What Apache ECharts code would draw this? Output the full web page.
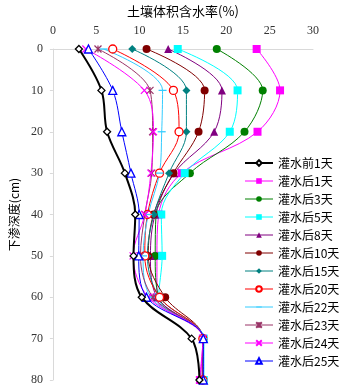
<!DOCTYPE html>
<html>
<head>
<meta charset="utf-8">
<script src="https://cdn.jsdelivr.net/npm/echarts@6/dist/echarts.min.js"></script>
<style>
  html, body { margin: 0; padding: 0; background: #fff; }
  #chart { width: 342px; height: 390px; }
</style>
</head>
<body>
<div id="chart"></div>
<script>
// depth (cm) down the y axis
const depths = [0, 10, 20, 30, 40, 50, 60, 70, 80];

// volumetric water content (%) per day, one value per depth
const before1 = [3.0, 5.6, 6.25, 8.3, 9.5, 9.3, 10.25, 16.0, 16.9];
const after1  = [23.5, 26.2, 23.6, 14.85, 12.2, 12.0, 12.0, 17.3, 17.0];
const after3  = [18.9, 24.2, 22.1, 15.8, 11.9, 11.8, 12.2, 17.3, 17.3];
const after5  = [14.4, 21.3, 20.4, 15.2, 12.5, 12.6, 12.2, 17.4, 17.4];
const after8  = [13.3, 19.5, 18.6, 14.0, 11.8, 11.25, 12.0, 17.3, 17.3];
const after10 = [10.8, 17.5, 16.8, 13.9, 11.6, 11.0, 12.95, 17.3, 17.3];
const after15 = [9.15, 15.4, 15.4, 13.4, 11.65, 10.9, 12.3, 17.3, 17.3];
const after20 = [6.9, 13.9, 14.55, 12.3, 10.9, 10.6, 12.3, 17.3, 17.3];
const after22 = [5.85, 12.65, 12.55, 12.3, 11.0, 10.4, 11.3, 17.4, 17.4];
const after23 = [5.2, 11.2, 11.5, 11.4, 10.6, 10.1, 11.55, 17.3, 17.2];
const after24 = [3.8, 10.55, 11.6, 11.3, 10.6, 9.25, 11.0, 17.3, 16.9];
const after25 = [4.1, 6.9, 7.95, 9.0, 9.95, 9.9, 10.8, 17.35, 17.35];

const xTicks = [0, 5, 10, 15, 20, 25, 30];
const yTicks = [0, 10, 20, 30, 40, 50, 60, 70, 80];

const SYM_X = 'path://M0,0L10,10M10,0L0,10';
const SYM_STAR = 'path://M0,0L10,10M10,0L0,10M5,0L5,10';
// thin bar, with two bare moves so the box stays square
const SYM_DASH = 'path://M0,0M10,10M0,4.2L10,4.2L10,5.8L0,5.8Z';

const seriesDefs = [
    { name: '灌水前1天', data: before1, color: '#000000', symbol: 'diamond', size: 7, hollow: true, width: 2 },
    { name: '灌水后1天', data: after1, color: '#FF00FF', symbol: 'rect', size: 8 },
    { name: '灌水后3天', data: after3, color: '#008000', symbol: 'circle', size: 8 },
    { name: '灌水后5天', data: after5, color: '#00FFFF', symbol: 'rect', size: 8 },
    { name: '灌水后8天', data: after8, color: '#800080', symbol: 'triangle', size: 8 },
    { name: '灌水后10天', data: after10, color: '#800000', symbol: 'circle', size: 8 },
    { name: '灌水后15天', data: after15, color: '#008080', symbol: 'diamond', size: 8 },
    { name: '灌水后20天', data: after20, color: '#FF0000', symbol: 'circle', size: 8, hollow: true },
    { name: '灌水后22天', data: after22, color: '#33CCFF', symbol: SYM_DASH, size: 8 },
    { name: '灌水后23天', data: after23, color: '#993366', symbol: SYM_STAR, size: 7, stroke: true },
    { name: '灌水后24天', data: after24, color: '#FF00FF', symbol: SYM_X, size: 7, stroke: true },
    { name: '灌水后25天', data: after25, color: '#0000FF', symbol: 'triangle', size: 8, hollow: true }
];

function buildSeries(def) {
    let itemStyle = { color: def.color };
    if (def.hollow) {
        itemStyle = { color: '#ffffff', borderColor: def.color, borderWidth: 1.3 };
    } else if (def.stroke) {
        itemStyle = { color: def.color, borderColor: def.color, borderWidth: 1.2 };
    }
    return {
        name: def.name,
        type: 'line',
        smooth: 0.35,
        data: def.data.map((v, i) => [v, depths[i]]),
        symbol: def.symbol,
        symbolSize: def.size,
        showAllSymbol: true,
        lineStyle: { color: def.color, width: def.width || 1 },
        itemStyle: itemStyle,
        emphasis: { disabled: true },
        z: def.width ? 3 : 2
    };
}

const labelFont = "'Liberation Serif', 'Noto Sans CJK SC', serif";
const cjkFont = "'Noto Sans CJK SC', sans-serif";

const chart = echarts.init(document.getElementById('chart'), null, { renderer: 'canvas' });

chart.setOption({
    animation: false,
    backgroundColor: '#ffffff',
    grid: { left: 42, right: 29, top: 45, bottom: 10 },
    legend: {
        orient: 'vertical',
        left: 244,
        top: 157,
        padding: 0,
        itemWidth: 28,
        itemHeight: 7,
        itemGap: 6,
        lineStyle: { width: 1 },
        textStyle: { fontSize: 12, fontFamily: cjkFont, color: '#000' },
        data: seriesDefs.map(d => d.width
            ? { name: d.name, lineStyle: { width: d.width } }
            : d.name)
    },
    xAxis: {
        type: 'value',
        position: 'top',
        min: 0,
        max: 30,
        interval: 5,
        name: '土壤体积含水率(%)',
        nameLocation: 'middle',
        nameGap: 31,
        nameTextStyle: { fontSize: 13, fontFamily: cjkFont, color: '#000' },
        axisLine: { show: true, lineStyle: { color: '#d9d9d9' } },
        axisTick: { show: false },
        axisLabel: {
            fontSize: 12, fontFamily: labelFont, color: '#333', margin: 12,
            formatter: v => xTicks.includes(v) ? String(v) : ''
        },
        splitLine: { show: false }
    },
    yAxis: {
        type: 'value',
        inverse: true,
        min: 0,
        max: 80,
        interval: 10,
        name: '下渗深度(cm)',
        nameLocation: 'middle',
        nameGap: 32,
        nameRotate: 90,
        nameTextStyle: { fontSize: 12, fontFamily: cjkFont, color: '#000' },
        axisLine: { show: true, lineStyle: { color: '#d9d9d9' } },
        axisTick: { show: true, length: 3, lineStyle: { color: '#d9d9d9' } },
        axisLabel: {
            fontSize: 12, fontFamily: labelFont, color: '#333', margin: 10,
            formatter: v => yTicks.includes(v) ? String(v) : ''
        },
        splitLine: { show: false }
    },
    series: seriesDefs.map(buildSeries)
});
</script>
</body>
</html>
